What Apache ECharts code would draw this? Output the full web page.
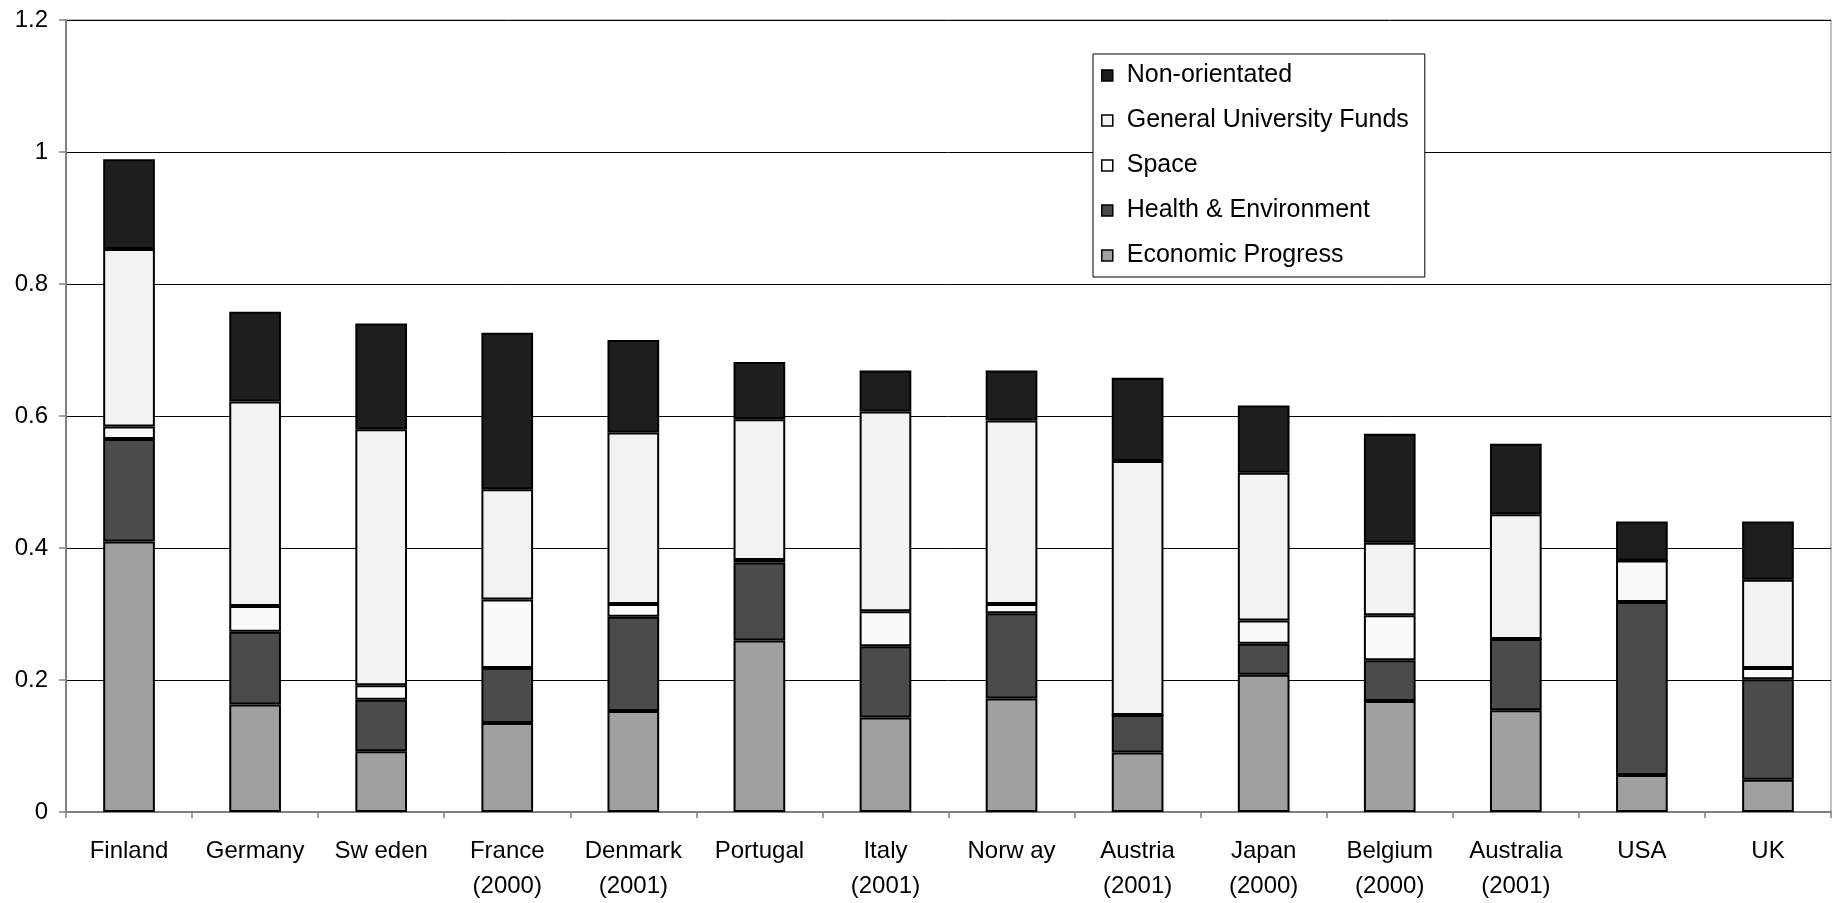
<!DOCTYPE html>
<html>
<head>
<meta charset="utf-8">
<script src="https://cdn.jsdelivr.net/npm/echarts@6/dist/echarts.min.js"></script>
<style>
html,body{margin:0;padding:0;background:#fff;}
#chart{width:1832px;height:903px;}
</style>
</head>
<body>
<div id="chart"></div>
<script>
const categories = ['Finland','Germany','Sw eden','France\n(2000)','Denmark\n(2001)','Portugal','Italy\n(2001)','Norw ay','Austria\n(2001)','Japan\n(2000)','Belgium\n(2000)','Australia\n(2001)','USA','UK'];
const economicProgress = [0.410,0.163,0.092,0.135,0.153,0.260,0.143,0.172,0.090,0.208,0.168,0.154,0.056,0.049];
const healthEnvironment = [0.155,0.110,0.078,0.083,0.143,0.118,0.108,0.129,0.057,0.047,0.062,0.108,0.262,0.152];
const space = [0.019,0.039,0.022,0.104,0.019,0.004,0.053,0.014,0,0.035,0.068,0,0.063,0.017];
const generalUniversityFunds = [0.269,0.310,0.388,0.167,0.260,0.213,0.303,0.278,0.385,0.224,0.110,0.189,0,0.134];
const nonOrientated = [0.136,0.136,0.160,0.237,0.140,0.087,0.062,0.076,0.126,0.102,0.165,0.107,0.059,0.088];
const yTicks = {min:0, max:1.2, interval:0.2};

const FONT = '"Liberation Sans", Arial, sans-serif';
function mk(name, data, color){
  return {name:name, type:'bar', stack:'total', data:data, barWidth:'41%',
    itemStyle:{color:color, borderColor:'#000', borderWidth:2},
    emphasis:{disabled:true}};
}
const chart = echarts.init(document.getElementById('chart'));
chart.setOption({
  animation:false,
  backgroundColor:'#fff',
  grid:{left:66, right:1, top:20, bottom:91, containLabel:false, outerBoundsMode:'none',
    show:true, borderColor:'#808080', borderWidth:1, backgroundColor:'transparent'},
  legend:{
    orient:'vertical', left:1093, top:54,
    data:['Non-orientated','General University Funds','Space','Health & Environment','Economic Progress'],
    icon:'rect',
    itemWidth:11, itemHeight:11, itemGap:18,
    itemStyle:{borderColor:'#000', borderWidth:1.5},
    padding:[8,16,8,8],
    backgroundColor:'#fff', borderColor:'#000', borderWidth:1,
    textStyle:{fontFamily:FONT, fontSize:25, color:'#000', lineHeight:27, padding:[0,0,0,9]},
    selectedMode:false
  },
  xAxis:{type:'category', data:categories,
    axisLine:{lineStyle:{color:'#808080', width:2}},
    axisTick:{show:true, length:6, lineStyle:{color:'#808080', width:1.5}},
    axisLabel:{fontFamily:FONT, fontSize:24, color:'#000', margin:22, lineHeight:35, interval:0}},
  yAxis:{type:'value', min:yTicks.min, max:yTicks.max, interval:yTicks.interval,
    axisLine:{show:true, lineStyle:{color:'#808080', width:2}},
    axisTick:{show:true, length:7, lineStyle:{color:'#808080', width:1.5}},
    axisLabel:{fontFamily:FONT, fontSize:24, color:'#000', margin:18},
    splitLine:{show:true, lineStyle:{color:'#000', width:1}}},
  series:[
    mk('Economic Progress', economicProgress, '#A0A0A0'),
    mk('Health & Environment', healthEnvironment, '#4B4B4B'),
    mk('Space', space, '#FAFAFA'),
    mk('General University Funds', generalUniversityFunds, '#F2F2F2'),
    mk('Non-orientated', nonOrientated, '#1E1E1E')
  ]
});
</script>
</body>
</html>
